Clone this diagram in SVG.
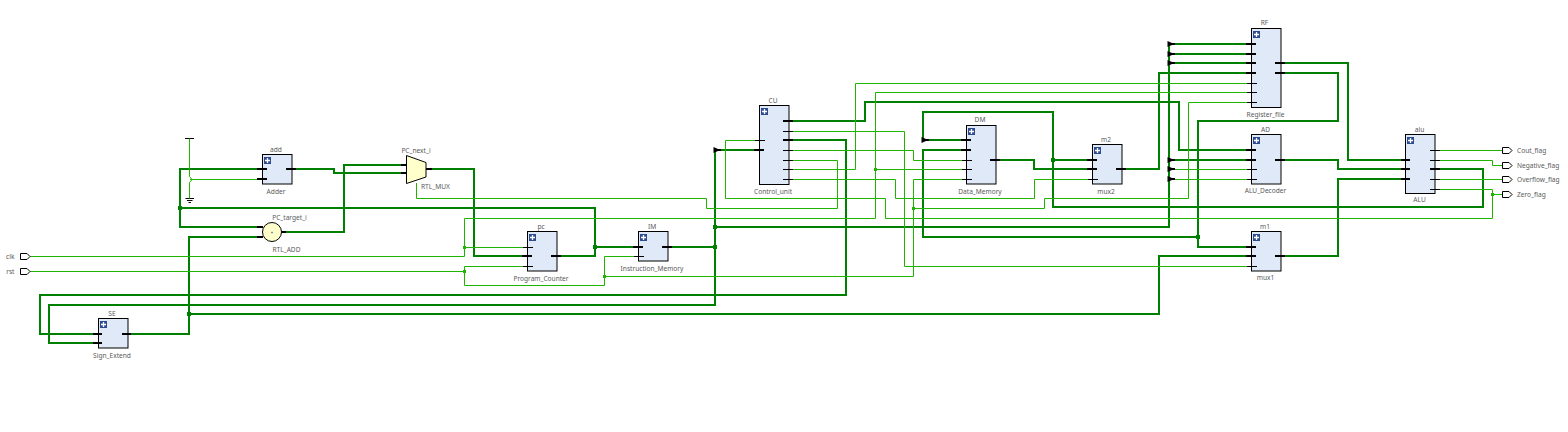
<svg xmlns="http://www.w3.org/2000/svg" xmlns:xlink="http://www.w3.org/1999/xlink" width="1568" height="432" viewBox="0 0 1568 432">
<style>
text{font-family:"Noto Sans","Liberation Sans",Arial,sans-serif;font-size:6.6px;fill:#5a5a5a;text-anchor:middle;dominant-baseline:central}
.l{text-anchor:start}.r{text-anchor:end}
.w,.t,.p,.q{fill:none}
.w{stroke:#008000;stroke-width:2}
.t{stroke:#1fb400;stroke-width:1}
.p{stroke:#000;stroke-width:2}
.q{stroke:#000;stroke-width:1}
.b{fill:#dfe9f7;stroke:#000;stroke-width:1}
.y{fill:#ffffcc;stroke:#000;stroke-width:1}
.o{fill:#fff;stroke:#000;stroke-width:1}
.j{fill:#008000}.k{fill:#1fb400}
</style>
<defs>
<g id="ic"><rect width="7" height="7" fill="#2f4b8f"/><path d="M1 3.500H6M3.500 1V6" stroke="#fff" stroke-width="1.300" fill="none"/></g>
<path id="tri" d="M-1.500 -3L3 -1V1L-1.500 3ZM3 -1H6V1H3Z" fill="#000"/>
<path id="pt" d="M.5 -3H7L10 0L7 3H.5Z" class="o"/>
</defs>

<g id="connectors">
<g class="thick">
<path class="w" d="M262 169H180V227H262"/>
<path class="w" d="M180 208H595V256H557"/>
<path class="w" d="M595 247H638"/>
<path class="w" d="M292 169H334V173H406"/>
<path class="w" d="M281 232H344V165H406"/>
<path class="w" d="M262 237H189V334H128"/>
<path class="w" d="M189 314H1159V256H1251"/>
<path class="w" d="M426 169H474V256H527"/>
<path class="w" d="M668 247H715"/>
<path class="w" d="M759 150H715V305H49V343H98"/>
<path class="w" d="M715 227H1169V44H1251"/>
<path class="w" d="M1169 54H1251M1169 63H1251"/>
<path class="w" d="M1169 160H1251"/>
<path class="w" d="M789 121H865V102H1179V150H1251"/>
<path class="w" d="M789 140H846V295H40V334H98"/>
<path class="w" d="M966 140H923V112H1053V207H1483V169H1435"/>
<path class="w" d="M1053 160H1092"/>
<path class="w" d="M996 160H1034V169H1092"/>
<path class="w" d="M966 150H923V237H1198"/>
<path class="w" d="M1122 169H1159V73H1251"/>
<path class="w" d="M1281 63H1348V160H1405"/>
<path class="w" d="M1281 73H1338V121H1198V247H1251"/>
<path class="w" d="M1281 160H1338V169H1405"/>
<path class="w" d="M1281 256H1338V179H1405"/>
</g>
<g class="thin">
<path class="t" d="M190 179.500H262"/>
<path class="t" d="M30 256.500H464.500V218.500H875.500V92.500H1251"/>
<path class="t" d="M464.500 247.500H527"/>
<path class="t" d="M30 271.500H464.500V266.500H527"/>
<path class="t" d="M464.500 271.500V285.500H604.500V256.500H638"/>
<path class="t" d="M604.500 276.500H913.500V179.500H966"/>
<path class="t" d="M913.500 208.500H1044.500V198.500H1188.500V102.500H1251"/>
<path class="t" d="M416.500 183V198.500H706.500V208.500H837.500V160.500H789"/>
<path class="t" d="M759 140.500H725.500V198.500H885.500V218.500H1492.500V189.500H1435"/>
<path class="t" d="M789 131.500H904.500V266.500H1251"/>
<path class="t" d="M789 150.500H913.500V160.500H966"/>
<path class="t" d="M789 169.500H855.500V83.500H1251"/>
<path class="t" d="M875.500 169.500H966"/>
<path class="t" d="M789 179.500H895.500V198.500H1034.500V179.500H1092"/>
<path class="t" d="M1169 169.500H1251M1169 179.500H1251"/>
<path class="t" d="M1435 150.500H1502"/>
<path class="t" d="M1435 160.500H1492.500V165.500H1502"/>
<path class="t" d="M1435 179.500H1502"/>
<path class="t" d="M1492.500 194.500H1502"/>
</g>
<g id="junctions">
<rect class="j" x="178" y="206" width="4" height="4"/>
<rect class="j" x="187" y="312" width="4" height="4"/>
<rect class="j" x="593" y="245" width="4" height="4"/>
<rect class="j" x="713" y="225" width="4" height="4"/>
<rect class="j" x="713" y="245" width="4" height="4"/>
<rect class="j" x="1051" y="158" width="4" height="4"/>
<rect class="j" x="1196" y="235" width="4" height="4"/>
<rect class="k" x="463" y="246" width="3" height="3"/>
<rect class="k" x="463" y="270" width="3" height="3"/>
<rect class="k" x="603" y="275" width="3" height="3"/>
<rect class="k" x="874" y="168" width="3" height="3"/>
<rect class="k" x="912" y="207" width="3" height="3"/>
<rect class="k" x="1491" y="193" width="3" height="3"/>
</g>
<g id="rippers">
<use href="#tri" x="1169" y="44"/>
<use href="#tri" x="1169" y="54"/>
<use href="#tri" x="1169" y="63"/>
<use href="#tri" x="1169" y="160"/>
<use href="#tri" x="1169" y="169"/>
<use href="#tri" x="1169" y="179"/>
<use href="#tri" x="715" y="150"/>
<use href="#tri" x="923" y="140"/>
</g>
</g>

<g id="const">
<path class="q" d="M185 138.500H194M185.500 198.500H194M187 200.500H192.500M188.500 202.500H191"/>
<path class="t" d="M189.500 138.500V176.500L192 179.500L189.500 182.500V198.500"/>
</g>

<g id="clk"><use href="#pt" x="20" y="256.500"/><text class="r" x="14.500" y="256.500">clk</text></g>
<g id="rst"><use href="#pt" x="20" y="271.500"/><text class="r" x="14.500" y="271.500">rst</text></g>

<g id="add">
<text x="276" y="149">add</text>
<rect class="b" x="262.500" y="154.500" width="29.500" height="29.500"/>
<use href="#ic" x="264" y="157"/>
<path class="p" d="M257 169H267M257 179H267M286 169H296"/>
<text x="276" y="191">Adder</text>
</g>

<g id="PC_target_i">
<text x="289.500" y="217">PC_target_i</text>
<path class="p" d="M257 227H263M257 237H263M281 232H286"/>
<circle class="y" cx="272" cy="232" r="9.500"/>
<text x="272" y="232.500" style="font-size:5px">+</text>
<text x="286.500" y="249">RTL_ADD</text>
</g>

<g id="PC_next_i">
<text x="416" y="150">PC_next_i</text>
<path class="p" d="M401 165H407M401 173H407M426 169H432"/>
<path class="y" d="M406.500 155.500L426 162.500V177L406.500 183.500Z"/>
<text class="l" x="421" y="186">RTL_MUX</text>
</g>

<g id="pc">
<text x="541" y="226">pc</text>
<rect class="b" x="527.500" y="231.500" width="29.500" height="39.500"/>
<use href="#ic" x="529" y="234"/>
<path class="q" d="M523 247.500H533M523 266.500H533"/>
<path class="p" d="M522 256H532M551 256H561"/>
<text x="541" y="278">Program_Counter</text>
</g>

<g id="IM">
<text x="652" y="226">IM</text>
<rect class="b" x="638.500" y="231.500" width="29.500" height="29.500"/>
<use href="#ic" x="640" y="234"/>
<path class="q" d="M634 256.500H644"/>
<path class="p" d="M633 247H643M662 247H672"/>
<text x="652" y="268">Instruction_Memory</text>
</g>

<g id="SE">
<text x="112" y="313">SE</text>
<rect class="b" x="98.500" y="318.500" width="29.500" height="29.500"/>
<use href="#ic" x="100" y="321"/>
<path class="p" d="M93 334H102M93 343H102M122 334H131"/>
<text x="112" y="355">Sign_Extend</text>
</g>

<g id="CU">
<text x="773" y="100">CU</text>
<rect class="b" x="759.500" y="105.500" width="29.500" height="79"/>
<use href="#ic" x="761" y="108"/>
<path class="q" d="M755 140.500H765M783 131.500H793M783 150.500H793M783 160.500H793M783 169.500H793M783 179.500H793"/>
<path class="p" d="M754 150H764M783 121H793M783 140H793"/>
<text x="773" y="191">Control_unit</text>
</g>

<g id="DM">
<text x="980" y="119">DM</text>
<rect class="b" x="966.500" y="125.500" width="29.500" height="58.500"/>
<use href="#ic" x="968" y="128"/>
<path class="q" d="M962 160.500H972M962 169.500H972M962 179.500H972"/>
<path class="p" d="M961 140H971M961 150H971M990 160H1000"/>
<text x="980" y="191">Data_Memory</text>
</g>

<g id="m2">
<text x="1106" y="139">m2</text>
<rect class="b" x="1092.500" y="144.500" width="29.500" height="39.500"/>
<use href="#ic" x="1094" y="147"/>
<path class="q" d="M1088 179.500H1098"/>
<path class="p" d="M1087 160H1097M1087 169H1097M1116 169H1126"/>
<text x="1106" y="191">mux2</text>
</g>

<g id="RF">
<text x="1264.500" y="22">RF</text>
<rect class="b" x="1251.500" y="28.500" width="29.500" height="79"/>
<use href="#ic" x="1253" y="31"/>
<path class="q" d="M1247 83.500H1257M1247 92.500H1257M1247 102.500H1257"/>
<path class="p" d="M1246 44H1256M1246 54H1256M1246 63H1256M1246 73H1256M1275 63H1285M1275 73H1285"/>
<text x="1265.500" y="114">Register_file</text>
</g>

<g id="AD">
<text x="1265.500" y="129">AD</text>
<rect class="b" x="1251.500" y="134.500" width="29.500" height="49.500"/>
<use href="#ic" x="1253" y="137"/>
<path class="q" d="M1247 169.500H1257M1247 179.500H1257"/>
<path class="p" d="M1246 150H1256M1246 160H1256M1275 160H1285"/>
<text x="1265.500" y="190">ALU_Decoder</text>
</g>

<g id="m1">
<text x="1265" y="226">m1</text>
<rect class="b" x="1251.500" y="231.500" width="29.500" height="39.500"/>
<use href="#ic" x="1253" y="234"/>
<path class="q" d="M1247 266.500H1257"/>
<path class="p" d="M1246 247H1256M1246 256H1256M1275 256H1285"/>
<text x="1265.500" y="277">mux1</text>
</g>

<g id="alu">
<text x="1419.500" y="129">alu</text>
<rect class="b" x="1405.500" y="134.500" width="29.500" height="59"/>
<use href="#ic" x="1407" y="137"/>
<path class="q" d="M1430 150.500H1440M1430 160.500H1440M1430 179.500H1440M1430 189.500H1440"/>
<path class="p" d="M1401 160H1410M1401 169H1410M1401 179H1410M1430 169H1440"/>
<text x="1419.500" y="199">ALU</text>
</g>

<g id="Cout_flag"><use href="#pt" x="1502" y="150.500"/><text class="l" x="1517" y="150.500">Cout_flag</text></g>
<g id="Negative_flag"><use href="#pt" x="1502" y="165.500"/><text class="l" x="1517" y="165.500">Negative_flag</text></g>
<g id="Overflow_flag"><use href="#pt" x="1502" y="179.500"/><text class="l" x="1517" y="179.500">Overflow_flag</text></g>
<g id="Zero_flag"><use href="#pt" x="1502" y="194.500"/><text class="l" x="1517" y="194.500">Zero_flag</text></g>
</svg>
